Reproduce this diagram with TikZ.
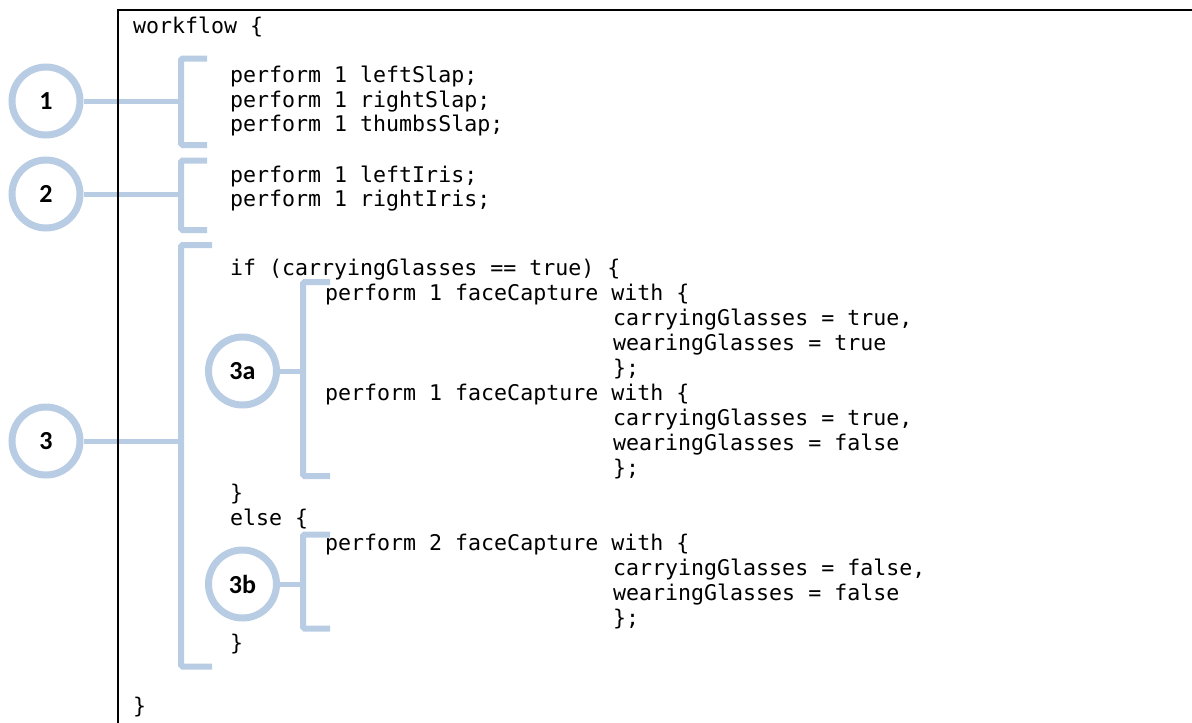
\documentclass[tikz,border=0pt]{standalone}
\usepackage{fontspec}
\newfontfamily\codefont{DejaVu Sans Mono}
\newfontfamily\labelfont{Carlito}
\definecolor{bracketblue}{HTML}{B8CCE4}
\begin{document}
\begin{tikzpicture}[x=1pt,y=-1pt,
  code/.style={anchor=base west, inner sep=0pt, font=\codefont\fontsize{21.6}{25}\selectfont},
  badge/.style={circle, draw=bracketblue, line width=7pt, minimum size=68pt, inner sep=0pt, font=\labelfont\bfseries\fontsize{26}{30}\selectfont},
  bracket/.style={draw=bracketblue, line width=6pt, rounded corners=1.5pt},
  link/.style={draw=bracketblue, line width=5pt},
  frame/.style={draw=black, line width=2.2pt}]
\useasboundingbox (0,0) rectangle (1192,723);

% badges
\node[badge] (c1) at (46,101) {1};
\node[badge] (c2) at (46,194) {2};
\node[badge] (c3) at (46,441) {3};
\node[badge] (c3a) at (242.5,371) {3a};
\node[badge] (c3b) at (242.5,584) {3b};

% brackets
\draw[bracket] (207,58.5) -- (181,58.5) -- (181,145) -- (207,145);
\draw[bracket] (207,160.5) -- (181,160.5) -- (181,230) -- (207,230);
\draw[bracket] (212,245) -- (181,245) -- (181,666.5) -- (212,666.5);
\draw[bracket] (330,282) -- (303,282) -- (303,476) -- (330,476);
\draw[bracket] (330,534.5) -- (303,534.5) -- (303,628.5) -- (330,628.5);

\coordinate (b1) at (181,101);
\coordinate (b2) at (181,194);
\coordinate (b3) at (181,441);
\coordinate (b3a) at (303,371);
\coordinate (b3b) at (303,584);

\draw[link] (c1.east) -- (b1);
\draw[link] (c2.east) -- (b2);
\draw[link] (c3.east) -- (b3);
\draw[link] (c3a.east) -- (b3a);
\draw[link] (c3b.east) -- (b3b);

% frame
\coordinate (fb) at (118,723);
\coordinate (ftl) at (118,10);
\coordinate (ftr) at (1192,10);
\draw[frame] (fb) -- (ftl) -- (ftr);

% code
\node[code] (l1) at (133,33) {workflow \{};
\node[code] (l2) at (230,82) {perform 1 leftSlap;};
\node[code] (l3) at (230,107) {perform 1 rightSlap;};
\node[code] (l4) at (230,131.5) {perform 1 thumbsSlap;};
\node[code] (l5) at (230,182) {perform 1 leftIris;};
\node[code] (l6) at (230,206.5) {perform 1 rightIris;};
\node[code] (l7) at (230,275) {if (carryingGlasses == true) \{};
\node[code] (l8) at (325,300) {perform 1 faceCapture with \{};
\node[code] (l9) at (613,325) {carryingGlasses = true,};
\node[code] (l10) at (613,350) {wearingGlasses = true};
\node[code] (l11) at (613,375) {\};};
\node[code] (l12) at (325,400) {perform 1 faceCapture with \{};
\node[code] (l13) at (613,425) {carryingGlasses = true,};
\node[code] (l14) at (613,450) {wearingGlasses = false};
\node[code] (l15) at (613,475) {\};};
\node[code] (l16) at (230,500) {\}};
\node[code] (l17) at (230,525) {else \{};
\node[code] (l18) at (325,550) {perform 2 faceCapture with \{};
\node[code] (l19) at (613,575) {carryingGlasses = false,};
\node[code] (l20) at (613,600) {wearingGlasses = false};
\node[code] (l21) at (613,625) {\};};
\node[code] (l22) at (230,650) {\}};
\node[code] (l23) at (133,713) {\}};
\end{tikzpicture}
\end{document}
